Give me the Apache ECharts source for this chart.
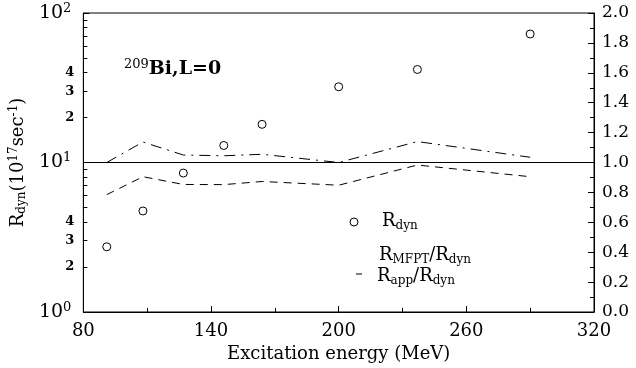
<!DOCTYPE html>
<html>
<head>
<meta charset="utf-8">
<script src="https://cdn.jsdelivr.net/npm/echarts@6/dist/echarts.min.js"></script>
<style>html,body{margin:0;padding:0;background:#fff}#c{width:636px;height:368px}</style>
</head>
<body>
<div id="c"></div>
<script>
// Data
const energy = [91, 108, 127, 146, 164, 200, 237, 290];
const rDyn = [2.73, 4.74, 8.5, 13.0, 18.0, 32.1, 41.9, 72.4];
const mfptRatio = [1.0, 1.137, 1.05, 1.045, 1.055, 1.0, 1.14, 1.035];
const appRatio = [0.785, 0.905, 0.853, 0.852, 0.873, 0.848, 0.983, 0.905];
const xTicks = [80, 140, 200, 260, 320];
const leftMinorLabels = [2, 3, 4, 20, 30, 40];
const leftMinorTicks = [2,3,4,5,6,7,8,9,20,30,40,50,60,70,80,90];

const FONT = 'DejaVu Serif';
const chart = echarts.init(document.getElementById('c'), null, {renderer: 'canvas'});

const sub = (fs, pad) => ({fontFamily: FONT, fontSize: fs, color: '#000', padding: [pad, 0, 0, 0]});
const sup = (fs, pad) => ({fontFamily: FONT, fontSize: fs, color: '#000', padding: [0, 0, pad, 0]});
const main = (fs, w) => ({fontFamily: FONT, fontSize: fs, color: '#000', fontWeight: w || 'normal'});

chart.setOption({
  animation: false,
  backgroundColor: '#fff',
  grid: {left: 83, right: 42, top: 13, bottom: 55, show: true, borderColor: '#000', borderWidth: 1, backgroundColor: 'transparent'},
  xAxis: {
    type: 'value', min: xTicks[0], max: xTicks[xTicks.length - 1], interval: 60,
    name: 'Excitation energy (MeV)', nameLocation: 'middle', nameGap: 33,
    nameTextStyle: {fontFamily: FONT, fontSize: 18, color: '#000'},
    axisLine: {lineStyle: {color: '#000', width: 1}},
    axisTick: {inside: true, length: 6, lineStyle: {color: '#000'}},
    minorTick: {show: true, splitNumber: 2, length: 4, lineStyle: {color: '#000'}},
    axisLabel: {fontFamily: FONT, fontSize: 18, color: '#000', margin: 10},
    splitLine: {show: false}
  },
  yAxis: [
    {
      type: 'log', logBase: 10, min: 1, max: 100, position: 'left',
      name: '{r|R}{s|dyn}{r|(10}{p|17}{r|sec}{p|-1}{r|)}',
      nameLocation: 'middle', nameGap: 45, nameRotate: 90,
      nameTextStyle: {rich: {r: main(18), s: sub(12, 8), p: sup(12, 8)}},
      axisLine: {show: true, lineStyle: {color: '#000'}},
      axisTick: {inside: true, length: 6, lineStyle: {color: '#000'}},
      axisLabel: {
        margin: 12,
        formatter: v => '{b|10}{p|' + Math.round(Math.log10(v)) + '}',
        rich: {b: main(19), p: sup(13, 9)}
      },
      splitLine: {show: false}
    },
    {
      type: 'value', min: 0, max: 2, interval: 0.2, position: 'right',
      axisLine: {show: true, lineStyle: {color: '#000'}},
      axisTick: {inside: true, length: 6, lineStyle: {color: '#000'}},
      minorTick: {show: true, splitNumber: 2, length: 4, lineStyle: {color: '#000'}},
      axisLabel: {fontFamily: FONT, fontSize: 17, color: '#000', margin: 8, formatter: v => v.toFixed(1)},
      splitLine: {show: false}
    },
    {
      type: 'value', min: 0, max: 2, position: 'left',
      axisLine: {show: false},
      axisTick: {show: true, inside: true, length: 4, lineStyle: {color: '#000'},
                 customValues: leftMinorTicks.map(v => Math.log10(v))},
      axisLabel: {show: true, fontFamily: FONT, fontSize: 13, fontWeight: 'bold', color: '#000', margin: 9,
                  customValues: leftMinorLabels.map(v => Math.log10(v)),
                  formatter: v => String(Math.round(Math.pow(10, v - Math.floor(v + 1e-9))))},
      splitLine: {show: false}
    }
  ],
  series: [
    {
      name: 'Rdyn', type: 'scatter', yAxisIndex: 0,
      data: energy.map((e, i) => [e, rDyn[i]]),
      symbol: 'circle', symbolSize: 8,
      itemStyle: {color: '#fff', borderColor: '#000', borderWidth: 1, opacity: 1}
    },
    {
      name: 'RMFPT/Rdyn', type: 'line', yAxisIndex: 1, symbol: 'none',
      data: energy.map((e, i) => [e, mfptRatio[i]]),
      lineStyle: {color: '#000', width: 1, type: [11, 6, 2, 6]}
    },
    {
      name: 'Rapp/Rdyn', type: 'line', yAxisIndex: 1, symbol: 'none',
      data: energy.map((e, i) => [e, appRatio[i]]),
      lineStyle: {color: '#000', width: 1, type: [8, 6]},
      markLine: {silent: true, symbol: 'none', label: {show: false},
                 lineStyle: {color: '#000', width: 1, type: 'solid'},
                 data: [{yAxis: 1}]}
    }
  ],
  graphic: [
    {type: 'text', left: 124, top: 58,
     style: {text: '{p|209}{b|Bi,L=0}', rich: {b: main(19, 'bold'), p: sup(13, 9)}}},
    {type: 'circle', shape: {cx: 354, cy: 222, r: 4}, style: {fill: '#fff', stroke: '#000', lineWidth: 1}},
    {type: 'text', x: 382, y: 221,
     style: {text: '{r|R}{s|dyn}', verticalAlign: 'middle', rich: {r: main(18), s: sub(12, 9)}}},
    {type: 'text', x: 379, y: 255,
     style: {text: '{r|R}{s|MFPT}{r|/R}{s|dyn}', verticalAlign: 'middle', rich: {r: main(18), s: sub(12, 9)}}},
    {type: 'text', x: 377, y: 276,
     style: {text: '{r|R}{s|app}{r|/R}{s|dyn}', verticalAlign: 'middle', rich: {r: main(18), s: sub(12, 9)}}},
    {type: 'line', shape: {x1: 356, y1: 274, x2: 362, y2: 274}, style: {stroke: '#000', lineWidth: 1}}
  ]
});
</script>
</body>
</html>
